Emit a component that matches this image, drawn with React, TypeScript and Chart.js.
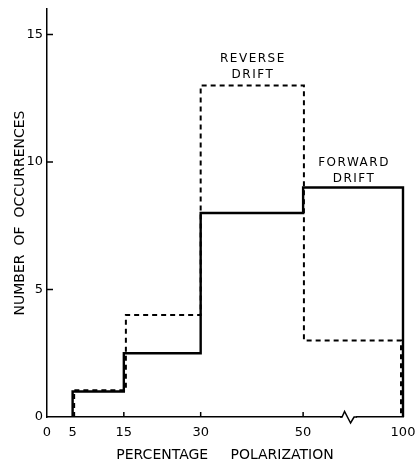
import React, { useEffect, useRef } from "react";
import { Chart, registerables } from "chart.js";

Chart.register(...registerables);

// ---- data ----
const forwardEdges = [5, 15, 30, 50, 100];
const forwardCounts = [1, 2.5, 8, 9];
const reverseEdges = [5.3, 15.4, 30, 50.4, 99];
const reverseCounts = [1.05, 4, 13, 3];
const xTickValues = [0, 5, 15, 30, 50, 100];
const xTickLabels = ["0", "5", "15", "30", "50", "100"];
const yTickValues = [0, 5, 10, 15];
const innerXTicks = [15, 30, 50];
const breakAt = 73;
const yMax = 16;

// x-axis has a break after 50: 50..100 compressed
const BREAK_START = 50;
const COMPRESS = 0.39;
const mapX = (v: number) => (v <= BREAK_START ? v : BREAK_START + (v - BREAK_START) * COMPRESS);

function stepPoints(edges: number[], counts: number[]) {
  const pts: { x: number; y: number }[] = [{ x: mapX(edges[0]), y: 0 }];
  counts.forEach((c, i) => {
    pts.push({ x: mapX(edges[i]), y: c });
    pts.push({ x: mapX(edges[i + 1]), y: c });
  });
  pts.push({ x: mapX(edges[edges.length - 1]), y: 0 });
  return pts;
}

const FONT = "'DejaVu Sans', sans-serif";

const decorPlugin = {
  id: "decor",
  afterDraw(chart: any) {
    const { ctx, scales } = chart;
    const xs = scales.x;
    const ys = scales.y;
    const y0 = ys.getPixelForValue(0);
    const xl = xs.getPixelForValue(0);
    ctx.save();
    ctx.strokeStyle = "#000";
    ctx.lineWidth = 1.5;
    // inward ticks on y axis
    yTickValues.filter((v) => v > 0).forEach((v) => {
      const py = ys.getPixelForValue(v);
      ctx.beginPath();
      ctx.moveTo(xl - 1, py);
      ctx.lineTo(xl + 6, py);
      ctx.stroke();
    });
    // inward ticks on x axis
    innerXTicks.forEach((v) => {
      const px = xs.getPixelForValue(mapX(v));
      ctx.beginPath();
      ctx.moveTo(px, y0);
      ctx.lineTo(px, y0 - 5);
      ctx.stroke();
    });
    // axis break zigzag
    const bx = xs.getPixelForValue(mapX(breakAt));
    ctx.fillStyle = "#fff";
    ctx.fillRect(bx - 7, y0 - 2, 14, 4);
    ctx.beginPath();
    ctx.moveTo(bx - 9, y0);
    ctx.lineTo(bx - 7, y0);
    ctx.lineTo(bx - 4.5, y0 - 5.5);
    ctx.lineTo(bx + 1.5, y0 + 6);
    ctx.lineTo(bx + 5, y0);
    ctx.lineTo(bx + 8, y0);
    ctx.stroke();
    // annotations
    ctx.fillStyle = "#000";
    ctx.font = `12px ${FONT}`;
    (ctx as any).letterSpacing = "1.5px";
    ctx.textAlign = "center";
    ctx.textBaseline = "middle";
    const rx = xs.getPixelForValue(mapX(40));
    ctx.fillText("REVERSE", rx + 1, ys.getPixelForValue(14.05));
    ctx.fillText("DRIFT", rx + 1, ys.getPixelForValue(13.4));
    const fx = xs.getPixelForValue(mapX(75));
    ctx.fillText("FORWARD", fx + 1, ys.getPixelForValue(9.95));
    ctx.fillText("DRIFT", fx + 1, ys.getPixelForValue(9.35));
    ctx.restore();
  },
};

export default function App() {
  const ref = useRef<HTMLCanvasElement>(null);
  useEffect(() => {
    if (!ref.current) return;
    const chart = new Chart(ref.current, {
      type: "line",
      data: {
        datasets: [
          {
            label: "Reverse drift",
            data: stepPoints(reverseEdges, reverseCounts),
            borderColor: "#000",
            borderWidth: 2,
            borderDash: [5, 4],
            pointRadius: 0,
            fill: false,
            tension: 0,
            clip: false as any,
          },
          {
            label: "Forward drift",
            data: stepPoints(forwardEdges, forwardCounts),
            borderColor: "#000",
            borderWidth: 2.4,
            pointRadius: 0,
            fill: false,
            tension: 0,
            clip: false as any,
          },
        ],
      },
      options: {
        animation: false,
        responsive: false,
        parsing: false as any,
        layout: { padding: { top: 9, right: 15, left: 0, bottom: 0 } },
        plugins: { legend: { display: false }, tooltip: { enabled: false } },
        scales: {
          x: {
            type: "linear",
            min: 0,
            max: mapX(100),
            grid: { display: false, drawTicks: false },
            border: { display: true, color: "#000", width: 1.5 },
            afterBuildTicks: (s: any) => {
              s.ticks = xTickValues.map((v) => ({ value: mapX(v) }));
            },
            afterFit: (s: any) => {
              s.height = 45;
              s.paddingLeft = 0;
              s.paddingRight = 0;
            },
            ticks: {
              color: "#000",
              font: { family: FONT, size: 13 },
              padding: 8,
              maxRotation: 0,
              autoSkip: false,
              callback: (_v: any, i: number) => xTickLabels[i],
            },
            title: {
              display: true,
              text: "PERCENTAGE     POLARIZATION",
              color: "#000",
              font: { family: FONT, size: 14 },
              padding: { top: 0, bottom: -2 },
            },
          },
          y: {
            type: "linear",
            min: 0,
            max: yMax,
            grid: { display: false, drawTicks: false },
            border: { display: true, color: "#000", width: 1.5 },
            afterBuildTicks: (s: any) => {
              s.ticks = yTickValues.map((v) => ({ value: v }));
            },
            afterFit: (s: any) => {
              s.width = 47;
              s.paddingTop = 0;
              s.paddingBottom = 0;
            },
            ticks: {
              color: "#000",
              font: { family: FONT, size: 13 },
              padding: 4,
              autoSkip: false,
            },
            title: {
              display: true,
              text: "NUMBER  OF  OCCURRENCES",
              color: "#000",
              font: { family: FONT, size: 14 },
              padding: { top: 12, bottom: 0 },
            },
          },
        },
      },
      plugins: [decorPlugin],
    });
    return () => chart.destroy();
  }, []);
  return (
    <div style={{ position: "fixed", left: 0, top: 0, width: 418, height: 462, background: "#fff" }}>
      <canvas ref={ref} width={418} height={462} />
    </div>
  );
}
